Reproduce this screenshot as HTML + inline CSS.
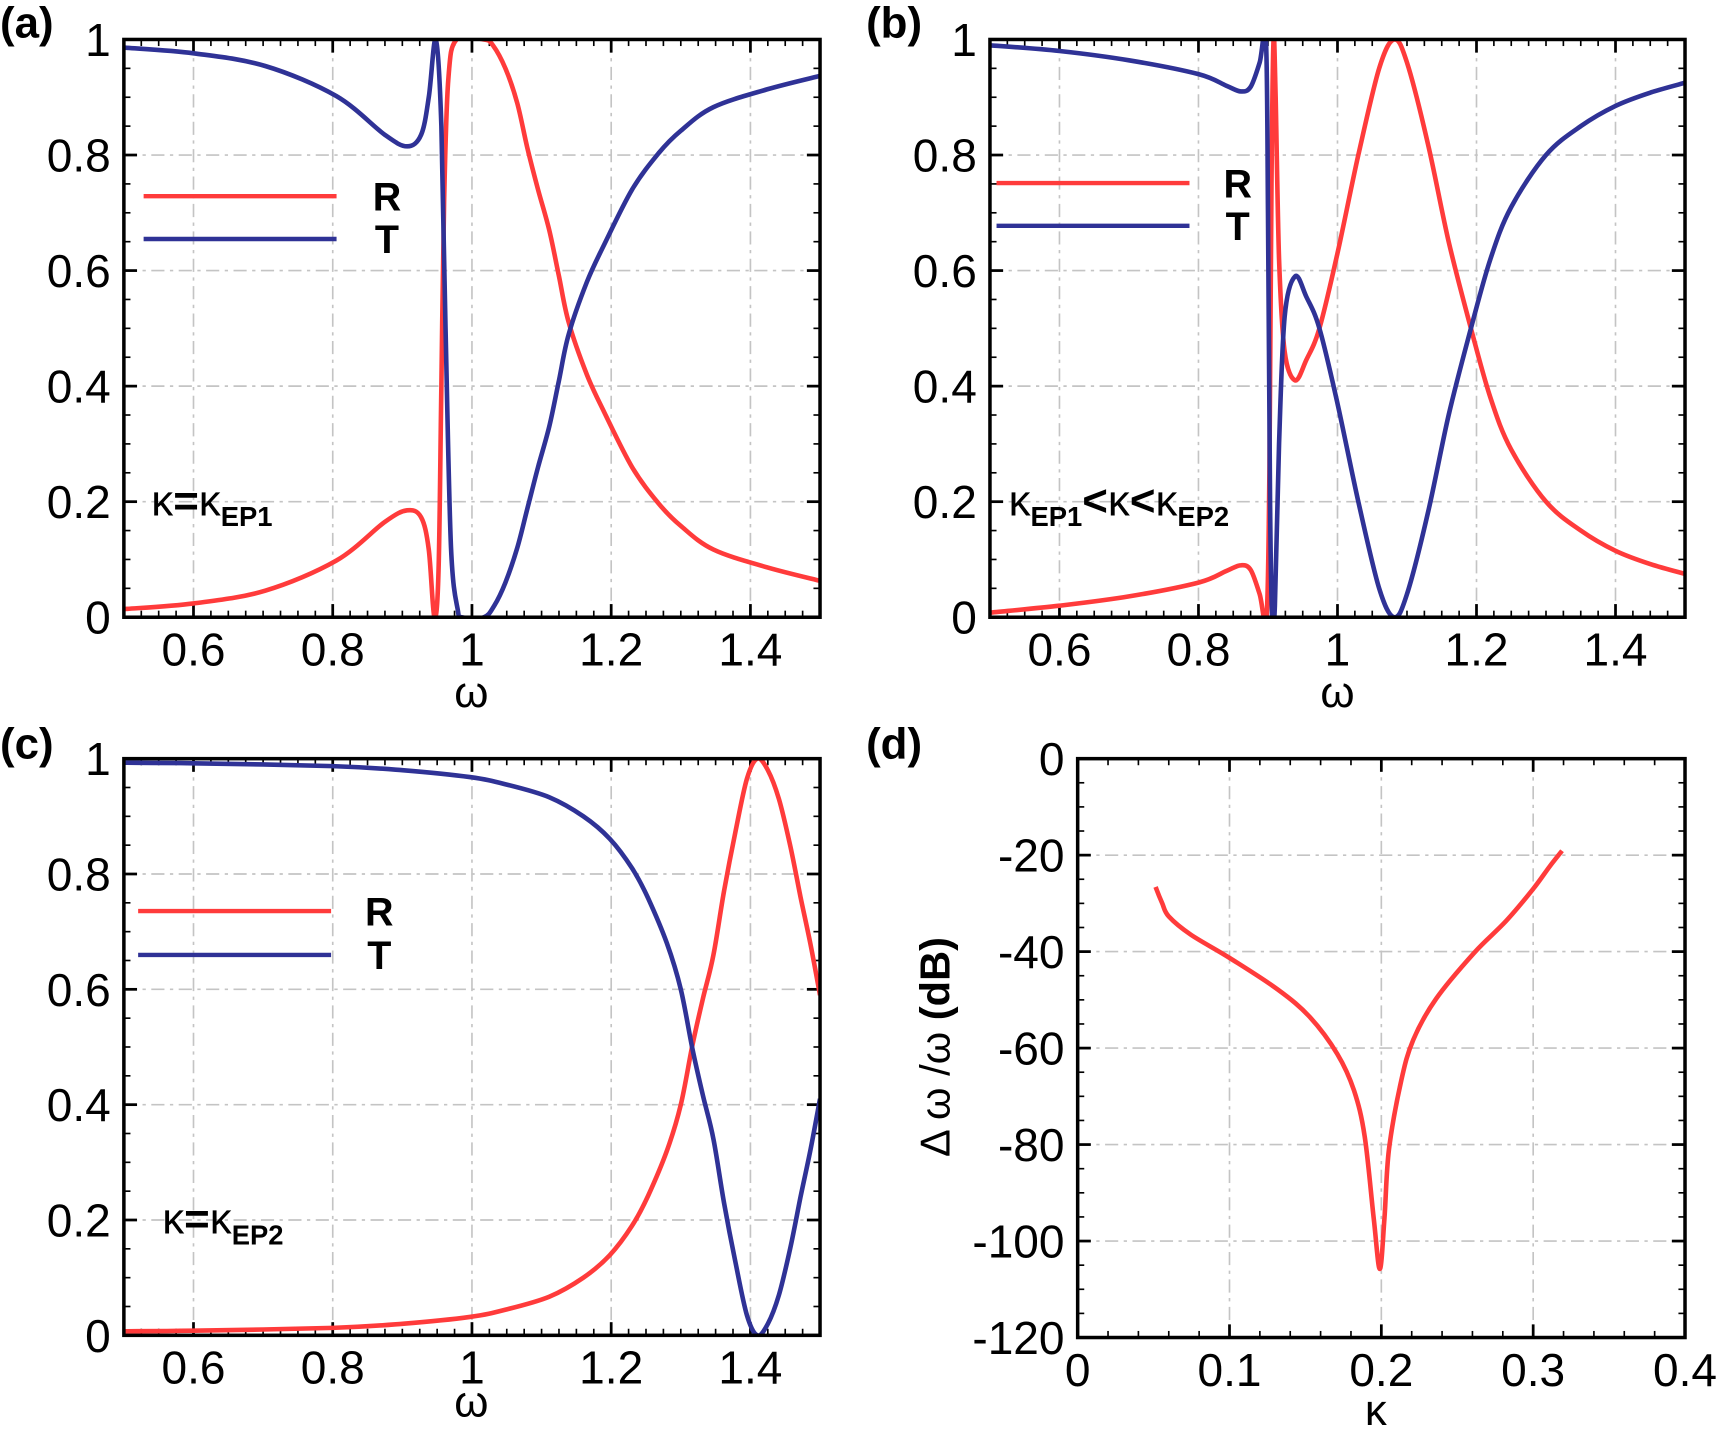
<!DOCTYPE html>
<html><head><meta charset="utf-8"><style>
html,body{margin:0;padding:0;background:#fff;}
svg{display:block;}
text{font-family:"Liberation Sans",sans-serif;fill:#000;}
</style></head><body>
<svg id="s" xmlns="http://www.w3.org/2000/svg" width="1719" height="1434" viewBox="0 0 1568 1308" preserveAspectRatio="none"></svg>
<script>
const S=document.getElementById('s');const NS='http://www.w3.org/2000/svg';
function el(t,a,txt){const e=document.createElementNS(NS,t);for(const k in a)e.setAttribute(k,a[k]);if(txt!==undefined)e.textContent=txt;S.appendChild(e);return e;}
const RED='#ff3b3b',BLUE='#2f3296';
function cr(pts){
  let d='M'+pts[0][0].toFixed(1)+','+pts[0][1].toFixed(1);
  for(let i=0;i<pts.length-1;i++){
    const p0=pts[Math.max(0,i-1)],p1=pts[i],p2=pts[i+1],p3=pts[Math.min(pts.length-1,i+2)];
    const c1=[p1[0]+(p2[0]-p0[0])/6,p1[1]+(p2[1]-p0[1])/6];
    const c2=[p2[0]-(p3[0]-p1[0])/6,p2[1]-(p3[1]-p1[1])/6];
    d+='C'+c1[0].toFixed(1)+','+c1[1].toFixed(1)+' '+c2[0].toFixed(1)+','+c2[1].toFixed(1)+' '+p2[0].toFixed(1)+','+p2[1].toFixed(1);
  }
  return d;
}
let cid=0;
function panel(P){
  const {x0,x1,y0,y1,xmin,xmax,ymin,ymax}=P;
  const X=v=>x0+(v-xmin)/(xmax-xmin)*(x1-x0), Y=v=>y1-(v-ymin)/(ymax-ymin)*(y1-y0);
  P.xt.forEach(v=>{if(v>xmin&&v<xmax)el('line',{x1:X(v),x2:X(v),y1:y0,y2:y1,stroke:'#c4c4c4','stroke-width':1.5,'stroke-dasharray':'12,5,3,5'});});
  P.yt.forEach(v=>{if(v>ymin&&v<ymax)el('line',{x1:x0,x2:x1,y1:Y(v),y2:Y(v),stroke:'#c4c4c4','stroke-width':1.5,'stroke-dasharray':'12,5,3,5'});});
  for(let v=xmin;v<=xmax+1e-9;v+=P.xm){el('line',{x1:X(v),x2:X(v),y1:y1,y2:y1-6,stroke:'#000','stroke-width':1.5});el('line',{x1:X(v),x2:X(v),y1:y0,y2:y0+6,stroke:'#000','stroke-width':1.5});}
  for(let v=ymin;v<=ymax+1e-9;v+=P.ym){el('line',{x1:x0,x2:x0+6,y1:Y(v),y2:Y(v),stroke:'#000','stroke-width':1.5});el('line',{x1:x1,x2:x1-6,y1:Y(v),y2:Y(v),stroke:'#000','stroke-width':1.5});}
  P.xt.forEach(v=>{el('line',{x1:X(v),x2:X(v),y1:y1,y2:y1-12,stroke:'#000','stroke-width':2.5});el('line',{x1:X(v),x2:X(v),y1:y0,y2:y0+12,stroke:'#000','stroke-width':2.5});
    el('text',{x:X(v),y:y1+44,'text-anchor':'middle','font-size':42},P.xl(v));});
  P.yt.forEach(v=>{el('line',{x1:x0,x2:x0+12,y1:Y(v),y2:Y(v),stroke:'#000','stroke-width':2.5});el('line',{x1:x1,x2:x1-12,y1:Y(v),y2:Y(v),stroke:'#000','stroke-width':2.5});
    el('text',{x:x0-12,y:Y(v)+15,'text-anchor':'end','font-size':42},P.yl(v));});
  const id='c'+(cid++);
  const cp=el('clipPath',{id:id});const r=document.createElementNS(NS,'rect');r.setAttribute('x',x0);r.setAttribute('y',y0);r.setAttribute('width',x1-x0);r.setAttribute('height',y1-y0);cp.appendChild(r);
  P.series.forEach(s=>{el('path',{d:cr(s.p.map(q=>[X(q[0]),Y(q[1])])),fill:'none',stroke:s.c,'stroke-width':4.2,'stroke-linejoin':'round','clip-path':'url(#'+id+')'});});
  el('rect',{x:x0,y:y0,width:x1-x0,height:y1-y0,fill:'none',stroke:'#000','stroke-width':3.2});
}
const f1=v=>v===1?'1':(v===0?'0':String(v));
const inv=a=>a.map(q=>[q[0],1-q[1]]);
const Ra=[[0.5,0.014],[0.6,0.024],[0.703,0.046],[0.805,0.098],[0.875,0.165],[0.907,0.185],[0.927,0.173],[0.938,0.117],[0.946,0],[0.952,0.08],[0.956,0.4],[0.96,0.72],[0.966,0.93],[0.978,1],[1.017,1],[1.03,0.99],[1.048,0.95],[1.065,0.89],[1.08,0.81],[1.095,0.74],[1.111,0.67],[1.125,0.59],[1.139,0.51],[1.165,0.42],[1.19,0.355],[1.23,0.26],[1.268,0.197],[1.3,0.158],[1.347,0.117],[1.425,0.086],[1.5,0.063]];
const Ta=[[0.5,0.986],[0.6,0.976],[0.703,0.954],[0.805,0.902],[0.875,0.835],[0.907,0.815],[0.927,0.835],[0.938,0.9],[0.948,1],[0.956,0.85],[0.962,0.5],[0.97,0.12],[0.98,0.01],[0.985,0],[1.017,0],[1.032,0.02],[1.048,0.06],[1.065,0.12],[1.08,0.19],[1.095,0.26],[1.111,0.33],[1.125,0.41],[1.139,0.49],[1.165,0.58],[1.19,0.645],[1.23,0.74],[1.268,0.803],[1.3,0.842],[1.347,0.883],[1.425,0.914],[1.5,0.937]];
const xtw=[0.6,0.8,1,1.2,1.4], ytw=[0,0.2,0.4,0.6,0.8,1];
const xlw=v=>v===1?'1':String(v);
panel({x0:113,x1:748,y0:36,y1:563,xmin:0.5,xmax:1.5,ymin:0,ymax:1,xt:xtw,yt:ytw,xm:0.025,ym:0.05,xl:xlw,yl:f1,
 series:[{c:RED,p:Ra},{c:BLUE,p:Ta}]});
const Rb=[[0.5,0.008],[0.6,0.02],[0.7,0.036],[0.8,0.06],[0.84,0.08],[0.861,0.09],[0.875,0.082],[0.888,0.04],[0.898,0],[0.902,0.25],[0.905,0.75],[0.908,1],[0.911,0.9],[0.916,0.62],[0.924,0.46],[0.939,0.41],[0.955,0.445],[0.974,0.5],[1.0,0.63],[1.03,0.8],[1.06,0.95],[1.0815,1.0],[1.1,0.96],[1.13,0.82],[1.16,0.65],[1.192,0.5],[1.22,0.38],[1.25,0.29],[1.3,0.2],[1.35,0.15],[1.4,0.115],[1.45,0.092],[1.5,0.075]];
const Tb=[[0.5,0.99],[0.6,0.98],[0.7,0.964],[0.8,0.94],[0.84,0.92],[0.861,0.91],[0.875,0.918],[0.888,0.96],[0.897,1],[0.9,0.7],[0.903,0.2],[0.906,0],[0.91,0.02],[0.916,0.3],[0.924,0.52],[0.939,0.59],[0.955,0.555],[0.974,0.5],[1.0,0.37],[1.03,0.2],[1.06,0.05],[1.0815,0],[1.1,0.04],[1.13,0.18],[1.16,0.35],[1.192,0.5],[1.22,0.62],[1.25,0.71],[1.3,0.8],[1.35,0.85],[1.4,0.885],[1.45,0.908],[1.5,0.925]];
panel({x0:903,x1:1537,y0:36,y1:563,xmin:0.5,xmax:1.5,ymin:0,ymax:1,xt:xtw,yt:ytw,xm:0.025,ym:0.05,xl:xlw,yl:f1,
 series:[{c:RED,p:Rb},{c:BLUE,p:Tb}]});
const Rc=[[0.5,0.007],[0.6,0.008],[0.8,0.013],[0.9,0.02],[0.997,0.032],[1.05,0.045],[1.111,0.067],[1.16,0.1],[1.198,0.139],[1.23,0.19],[1.253,0.242],[1.28,0.32],[1.3,0.4],[1.317,0.505],[1.332,0.585],[1.347,0.66],[1.362,0.77],[1.378,0.87],[1.395,0.965],[1.41,1.0],[1.425,0.98],[1.441,0.93],[1.457,0.85],[1.472,0.76],[1.486,0.68],[1.5,0.59]];
panel({x0:113,x1:748,y0:692,y1:1218,xmin:0.5,xmax:1.5,ymin:0,ymax:1,xt:xtw,yt:ytw,xm:0.025,ym:0.05,xl:xlw,yl:f1,
 series:[{c:RED,p:Rc},{c:BLUE,p:inv(Rc)}]});
const Dd=[[0.0513,-26.6],[0.0556,-29.9],[0.06,-32.7],[0.0746,-36.5],[0.1,-41.3],[0.132,-47.9],[0.153,-53.6],[0.171,-61.2],[0.182,-68.8],[0.189,-78.3],[0.195,-95.4],[0.199,-105.8],[0.202,-95.4],[0.205,-81.1],[0.213,-66.9],[0.221,-58.3],[0.236,-49.8],[0.261,-40.3],[0.282,-33.7],[0.3,-27.0],[0.311,-22.3],[0.319,-19.1]];
panel({x0:983,x1:1537,y0:692,y1:1220,xmin:0,xmax:0.4,ymin:-120,ymax:0,xt:[0,0.1,0.2,0.3,0.4],yt:[-120,-100,-80,-60,-40,-20,0],xm:0.02,ym:5,xl:v=>String(v),yl:v=>String(v),
 series:[{c:RED,p:Dd}]});
[[430,645],[1220,645],[430,1292]].forEach(p=>el('text',{x:p[0],y:p[1],'text-anchor':'middle','font-size':40},'ω'));
el('text',{x:1255,y:1300,'text-anchor':'middle','font-size':40},'κ');
const yl=el('text',{x:0,y:0,'text-anchor':'middle','font-size':38,transform:'translate(866,955) rotate(-90)'});
yl.innerHTML='<tspan>Δ ω /ω </tspan><tspan font-weight="bold">(dB)</tspan>';
[['(a)',0,34],['(b)',790,34],['(c)',0,692],['(d)',790,692]].forEach(p=>el('text',{x:p[1],y:p[2],'font-size':40,'font-weight':'bold'},p[0]));
function leg(x,y,dy,tx){el('line',{x1:x,x2:x+176,y1:y,y2:y,stroke:RED,'stroke-width':4});el('line',{x1:x,x2:x+176,y1:y+dy,y2:y+dy,stroke:BLUE,'stroke-width':4});
 el('text',{x:tx,y:y+13,'font-size':36,'font-weight':'bold','text-anchor':'middle'},'R');el('text',{x:tx,y:y+dy+13,'font-size':36,'font-weight':'bold','text-anchor':'middle'},'T');}
leg(131,179,39,353);leg(909,167,39,1129);leg(126,831,40,346);
function ann(x,y,html){const t=el('text',{x:x,y:y,'font-size':40});t.innerHTML=html;}
ann(138,470,'κ<tspan font-weight="bold">=</tspan>κ<tspan font-size="25" font-weight="bold" dy="10">EP1</tspan>');
ann(920,470,'κ<tspan font-size="25" font-weight="bold" dy="10">EP1</tspan><tspan dy="-10" font-weight="bold">&lt;</tspan>κ<tspan font-weight="bold">&lt;</tspan>κ<tspan font-size="25" font-weight="bold" dy="10">EP2</tspan>');
ann(148,1125,'κ<tspan font-weight="bold">=</tspan>κ<tspan font-size="25" font-weight="bold" dy="10">EP2</tspan>');
</script>
</body></html>
